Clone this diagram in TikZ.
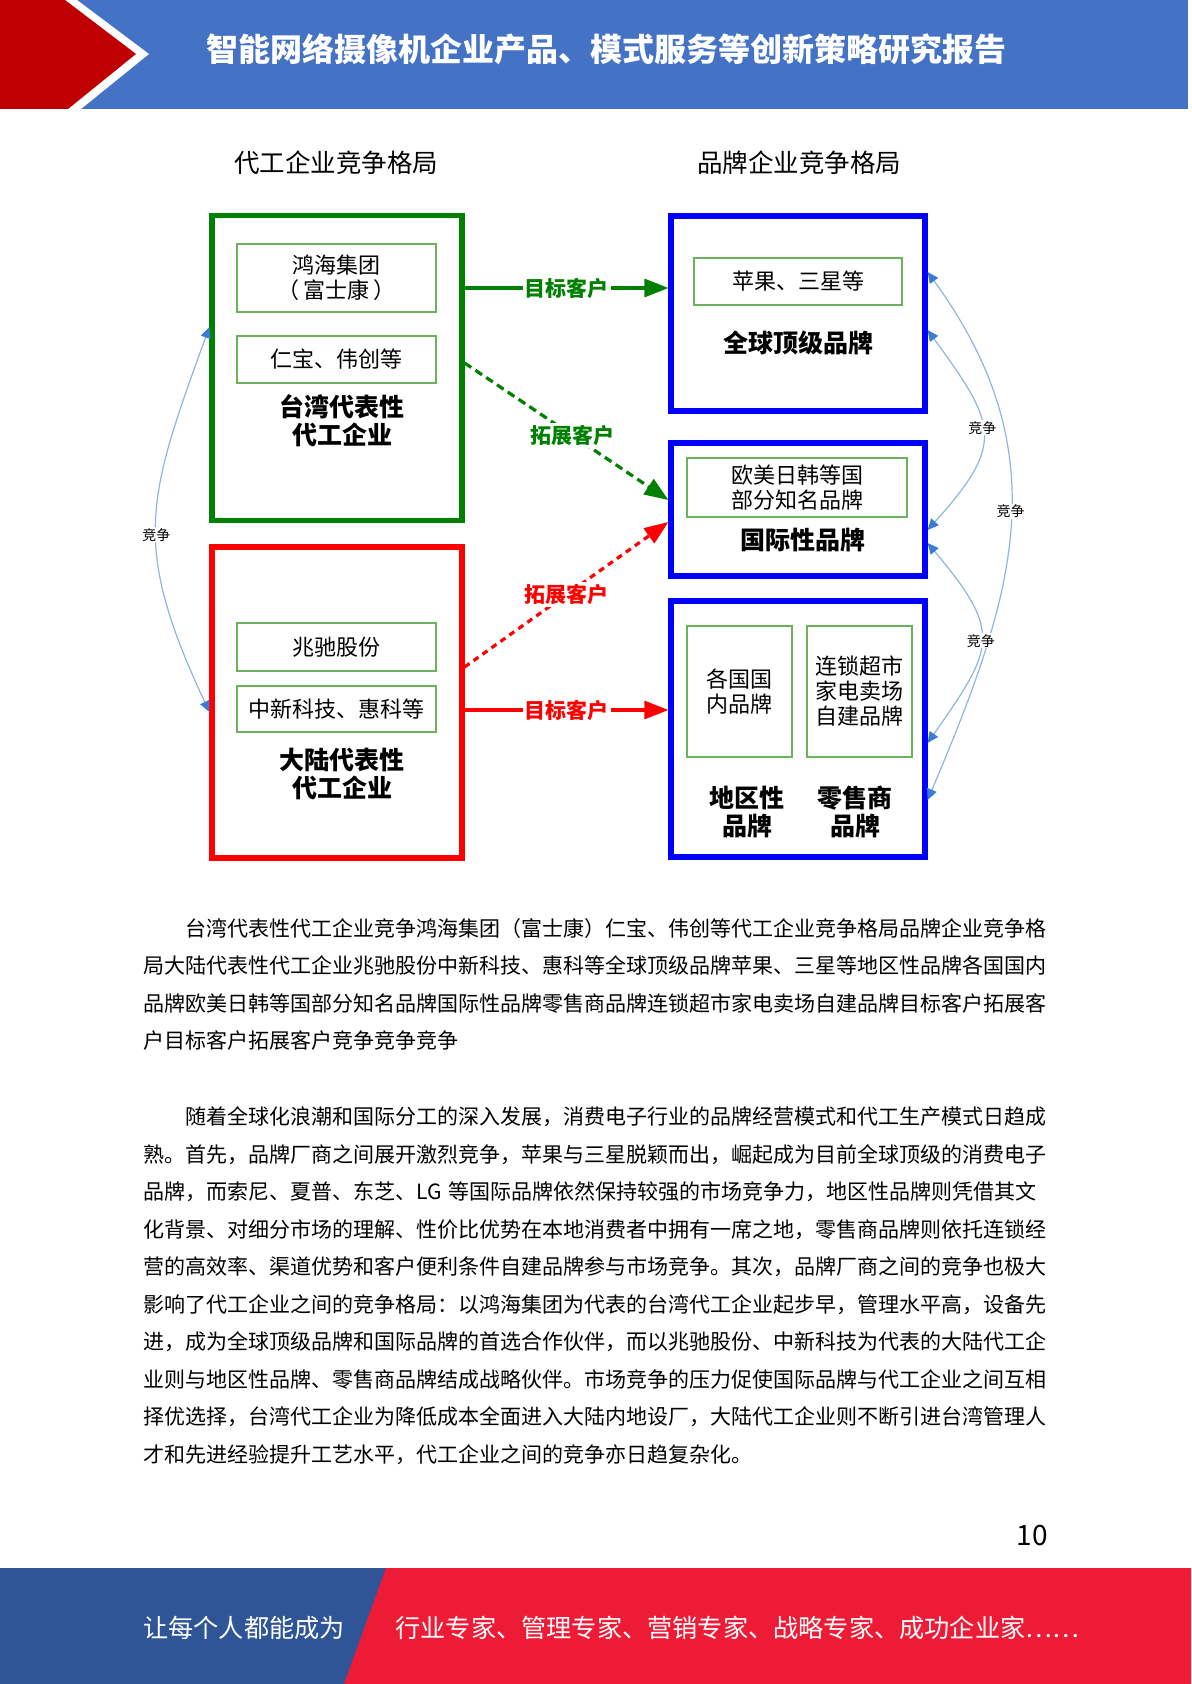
\documentclass[tikz,border=0pt]{standalone}
\usepackage{fontspec}
\setmainfont{Noto Sans CJK SC}
\usetikzlibrary{positioning,arrows.meta}

\definecolor{hdrblue}{HTML}{4472C4}
\definecolor{hdrred}{HTML}{C00000}
\definecolor{ftblue}{HTML}{2F5597}
\definecolor{ftred}{HTML}{EE1B36}
\definecolor{twgreen}{HTML}{008000}
\definecolor{boxgreen}{HTML}{6AB35A}
\definecolor{mlred}{HTML}{FF0000}
\definecolor{brandblue}{HTML}{0000FF}
\definecolor{arcline}{HTML}{8DB4E2}
\definecolor{tipblue}{HTML}{3C7BD4}

\begin{document}
\begin{tikzpicture}[x=0.5pt,y=0.5pt,every node/.style={inner sep=0pt},
	outerbox/.style={draw,line width=2.6pt,minimum width=125pt},
	brandbox/.style={draw=brandblue,line width=2.6pt,minimum width=127pt},
	innerbox/.style={draw=boxgreen,line width=0.6pt,align=center,font=\fontsize{11}{12.5}\selectfont},
	tier/.style={align=center,font=\fontsize{12.5}{14}\selectfont\bfseries},
	colhead/.style={font=\fontsize{12.75}{15}\selectfont},
	arrowlabel/.style={fill=white,inner sep=1pt,font=\fontsize{10.5}{12}\selectfont\bfseries},
	bizarrow/.style={line width=1.6pt,-{Triangle[length=12pt,width=9pt]}},
	rivalry/.style={draw=arcline,line width=0.6pt,>={Triangle[length=5.5pt,width=5pt,color=tipblue]},<->},
	rivallabel/.style={fill=white,inner sep=0.5pt,font=\fontsize{7}{8}\selectfont},
	bodytext/.style={align=left,text width=460pt,font=\fontsize{10.5}{18.75}\selectfont}]
	\useasboundingbox (0,0) rectangle (1191,-1684);

	% Header band
	\fill[hdrblue] (0,0) rectangle (1188,-109);
	\fill[white] (0,0) -- (77,0) -- (149,-54) -- (81,-109) -- (0,-109) -- cycle;
	\fill[hdrred] (0,0) -- (65,0) -- (136,-54) -- (68,-109) -- (0,-109) -- cycle;
	\node[text=white,font=\fontsize{16}{20}\selectfont\bfseries] (title) at (606,-49) {智能网络摄像机企业产品、模式服务等创新策略研究报告};

	% Column heads
	\node[colhead] (oemhead) at (336,-163) {代工企业竞争格局};
	\node[colhead] (brandhead) at (799,-163) {品牌企业竞争格局};

	% OEM side
	\node[outerbox,draw=twgreen,minimum height=152.5pt] (tw) at (337,-368) {};
	\node[innerbox,minimum width=99.5pt,minimum height=34pt] (hh) at (336.5,-278) {鸿海集团\\（\,富士康\,）};
	\node[innerbox,minimum width=99.5pt,minimum height=23.5pt] (rb) at (336.5,-359.5) {仁宝、伟创等};
	\node[tier] (twl) at (342,-421) {台湾代表性\\代工企业};

	\node[outerbox,draw=mlred,minimum height=155.5pt] (ml) at (337,-702.5) {};
	\node[innerbox,minimum width=99.5pt,minimum height=24pt] (zc) at (336.5,-647) {兆驰股份};
	\node[innerbox,minimum width=99.5pt,minimum height=23pt] (zx) at (336.5,-709) {中新科技、惠科等};
	\node[tier] (mll) at (342,-774) {大陆代表性\\代工企业};

	% Brand side
	\node[brandbox,minimum height=97.5pt] (gl) at (798,-313.5) {};
	\node[innerbox,minimum width=104pt,minimum height=23.5pt] (pg) at (798,-281.5) {苹果、三星等};
	\node[tier] (gll) at (798,-343) {全球顶级品牌};

	\node[brandbox,minimum height=66.5pt] (intl) at (798,-509.5) {};
	\node[innerbox,minimum width=110pt,minimum height=29.5pt] (om) at (797,-487.5) {欧美日韩等国\\部分知名品牌};
	\node[tier] (intll) at (803,-540) {国际性品牌};

	\node[brandbox,minimum height=128pt] (rg) at (798,-729) {};
	\node[innerbox,minimum width=52.5pt,minimum height=65.5pt] (gn) at (739.5,-691.5) {各国国\\内品牌};
	\node[innerbox,minimum width=52.5pt,minimum height=65.5pt] (ls) at (859.5,-691.5) {连锁超市\\家电卖场\\自建品牌};
	\node[tier] (rgl) at (747,-812) {地区性\\品牌};
	\node[tier] (rtl) at (855,-812) {零售商\\品牌};

	% Customer arrows
	\draw[bizarrow,draw=twgreen] ([yshift=40pt]tw.east) -- node[arrowlabel,text=twgreen] {目标客户} ([yshift=40pt]tw.east -| gl.west);
	\draw[bizarrow,draw=twgreen,dash pattern=on 4pt off 2.5pt] ([yshift=2.5pt]tw.east) -- node[arrowlabel,text=twgreen,pos=.53] {拓展客户} ([yshift=4.75pt]intl.west);
	\draw[bizarrow,draw=mlred,dash pattern=on 3pt off 2.5pt] ([yshift=17.75pt]ml.east) -- node[arrowlabel,text=mlred,pos=.5] {拓展客户} ([yshift=-6.25pt]intl.west);
	\draw[bizarrow,draw=mlred] ([yshift=-3.75pt]ml.east) -- node[arrowlabel,text=mlred] {目标客户} ([yshift=-3.75pt]ml.east -| rg.west);

	% Competition arcs
	\draw[rivalry] ([yshift=20.5pt]tw.west) to[out=250,in=115,looseness=1.23] node[rivallabel,pos=.54] {竞争} ([yshift=-4.75pt]ml.west);
	\draw[rivalry] ([yshift=-8.25pt]gl.east) to[out=-54,in=48,looseness=1.5] node[rivallabel,pos=.47] {竞争} ([yshift=-10.25pt]intl.east);
	\draw[rivalry] ([yshift=20.75pt]gl.east) to[out=-54,in=67,looseness=1.09] node[rivallabel,pos=.47] {竞争} ([yshift=-35.5pt]rg.east);
	\draw[rivalry] ([yshift=-16.75pt]intl.east) to[out=-50,in=55,looseness=1.5] node[rivallabel] {竞争} ([yshift=-7pt]rg.east);

	% Body text
	\node[bodytext,anchor=north west] (para1) at (143,-918) {\hspace*{2em}台湾代表性代工企业竞争鸿海集团（富士康）仁宝、伟创等代工企业竞争格局品牌企业竞争格\\
局大陆代表性代工企业兆驰股份中新科技、惠科等全球顶级品牌苹果、三星等地区性品牌各国国内\\
品牌欧美日韩等国部分知名品牌国际性品牌零售商品牌连锁超市家电卖场自建品牌目标客户拓展客\\
户目标客户拓展客户竞争竞争竞争};
	\node[bodytext,anchor=north west] (para2) at (143,-1106.5) {\hspace*{2em}随着全球化浪潮和国际分工的深入发展，消费电子行业的品牌经营模式和代工生产模式日趋成\\
熟。首先，品牌厂商之间展开激烈竞争，苹果与三星脱颖而出，崛起成为目前全球顶级的消费电子\\
品牌，而索尼、夏普、东芝、LG 等国际品牌依然保持较强的市场竞争力，地区性品牌则凭借其文\\
化背景、对细分市场的理解、性价比优势在本地消费者中拥有一席之地，零售商品牌则依托连锁经\\
营的高效率、渠道优势和客户便利条件自建品牌参与市场竞争。其次，品牌厂商之间的竞争也极大\\
影响了代工企业之间的竞争格局：以鸿海集团为代表的台湾代工企业起步早，管理水平高，设备先\\
进，成为全球顶级品牌和国际品牌的首选合作伙伴，而以兆驰股份、中新科技为代表的大陆代工企\\
业则与地区性品牌、零售商品牌结成战略伙伴。市场竞争的压力促使国际品牌与代工企业之间互相\\
择优选择，台湾代工企业为降低成本全面进入大陆内地设厂，大陆代工企业则不断引进台湾管理人\\
才和先进经验提升工艺水平，代工企业之间的竞争亦日趋复杂化。};

	% Page number and footer
	\node[anchor=east,font=\fontsize{14}{16}\selectfont] (pageno) at (1048,-1535) {10};
	\fill[ftblue] (0,-1568) rectangle (1191,-1684);
	\fill[ftred] (386,-1568) -- (1191,-1568) -- (1191,-1684) -- (344,-1684) -- cycle;
	\node[text=white,font=\fontsize{12.6}{15}\selectfont] (motto) at (244,-1628) {让每个人都能成为};
	\node[text=white,font=\fontsize{12.6}{15}\selectfont,anchor=west] (roles) at (395,-1628) {行业专家、管理专家、营销专家、战略专家、成功企业家……};
\end{tikzpicture}
\end{document}
